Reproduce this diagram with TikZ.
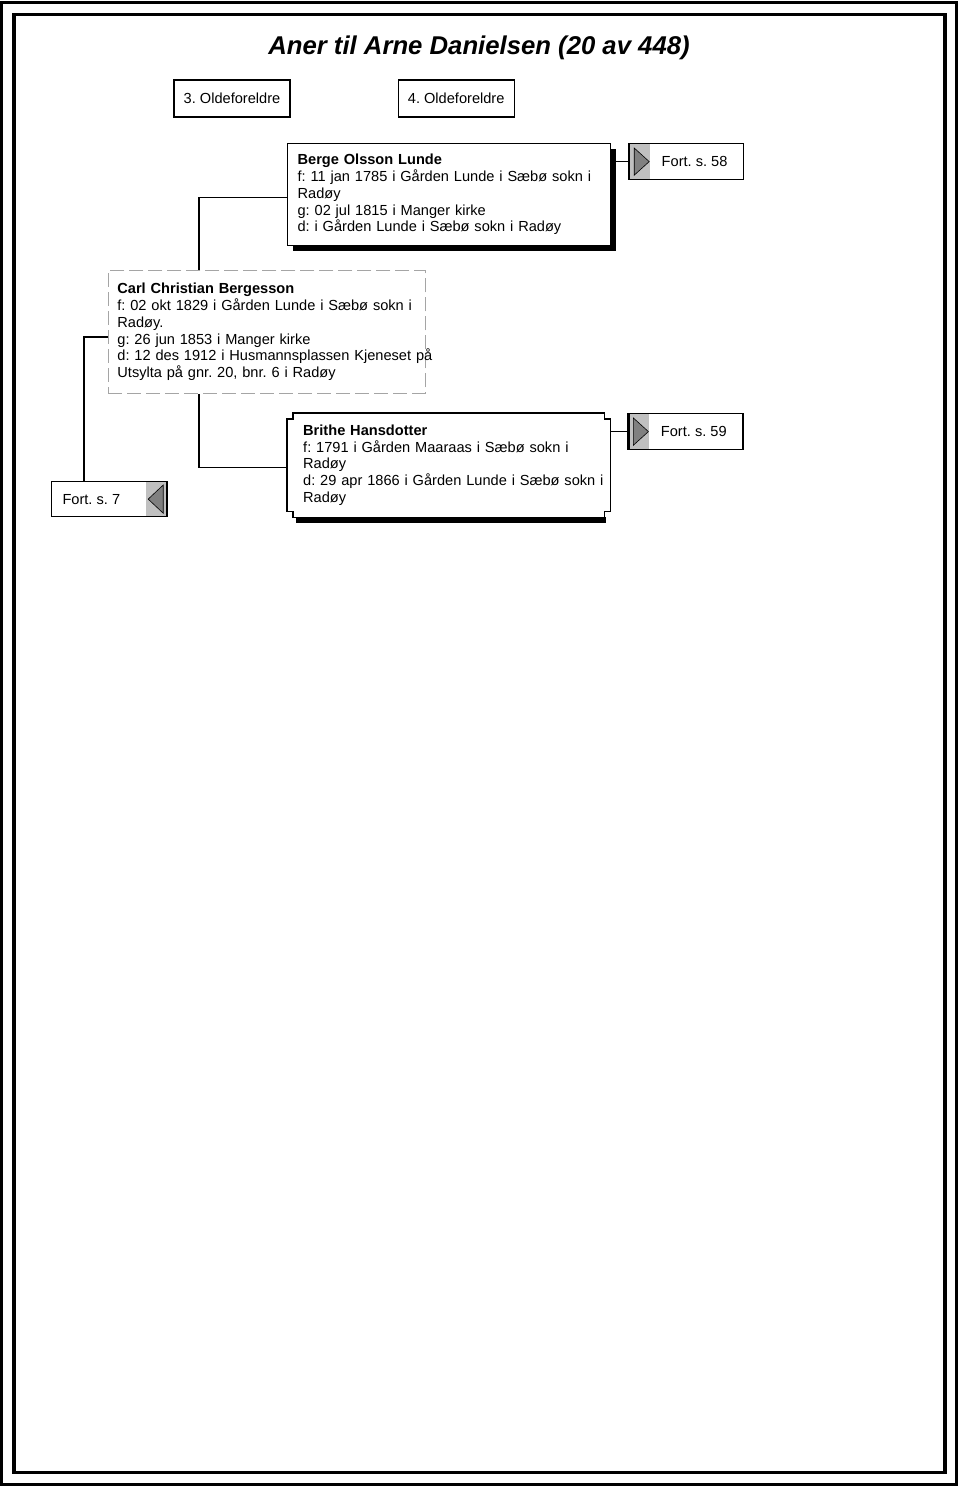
\documentclass[tikz,border=0pt]{standalone}
\usepackage{fontspec}
\setmainfont{Liberation Sans}
\usetikzlibrary{calc,positioning}
\definecolor{panelgray}{RGB}{192,192,192}
\definecolor{arrowgray}{RGB}{128,128,128}
\definecolor{dashgray}{RGB}{165,165,165}
\frenchspacing

\begin{document}
\begin{tikzpicture}[x=1pt,y=-1pt,
  every node/.style={font=\fontsize{14.6}{16.8}\selectfont},
  gentab/.style={draw, line width=1.2pt, minimum width=116pt, minimum height=37pt, inner sep=0pt},
  personbox/.style={draw, line width=1.2pt, fill=white, anchor=north west, align=left, inner ysep=4pt},
  blackshadow/.style={preaction={fill=black, transform canvas={xshift=5pt, yshift=-5pt}}},
  fortbox/.style={draw, line width=1.2pt, fill=white, minimum width=114pt, minimum height=36pt, inner sep=0pt},
  link/.style={line width=1.3pt},
  arrowtab/.style={fill=arrowgray, draw=black, line width=0.6pt}
]
\useasboundingbox (0,0) rectangle (960,1489);

% Page frames
\draw[line width=3pt] (1.5,2) rectangle (956,1484.5);
\draw[line width=3.5pt] (14,14.5) rectangle (945,1472.5);

\node[font=\bfseries\itshape\fontsize{25.7}{30}\selectfont] (title) at (479,48) {Aner til Arne Danielsen (20 av 448)};

\node[gentab] (gen3) at (232,98.5) {3. Oldeforeldre};
\node[gentab, right=107pt of gen3] (gen4) {4. Oldeforeldre};

% Persons
\node[personbox, blackshadow, text width=303pt, inner xsep=10pt, minimum height=102pt] (berge) at (287,143)
  {\textbf{Berge Olsson Lunde}\\ \mbox{f: 11 jan 1785 i Gården Lunde i Sæbø sokn i}\\ Radøy\\ g: 02 jul 1815 i Manger kirke\\ d: i Gården Lunde i Sæbø sokn i Radøy};

\node[personbox, draw=dashgray, line width=0.8pt, dash pattern=on 14pt off 5pt, text width=299pt, inner xsep=9pt, minimum height=123pt] (carl) at (108,270)
  {\textbf{Carl Christian Bergesson}\\ \mbox{f: 02 okt 1829 i Gården Lunde i Sæbø sokn i}\\ Radøy.\\ g: 26 jun 1853 i Manger kirke\\ \mbox{d: 12 des 1912 i Husmannsplassen Kjeneset på}\\ Utsylta på gnr. 20, bnr. 6 i Radøy};

\node[anchor=north west, align=left, text width=291pt, inner xsep=16pt, inner ysep=4pt, minimum height=104pt] (brithe) at (287,413)
  {\textbf{Brithe Hansdotter}\\ \mbox{f: 1791 i Gården Maaraas i Sæbø sokn i}\\ Radøy\\ \mbox{d: 29 apr 1866 i Gården Lunde i Sæbø sokn i}\\ Radøy};
\fill ($(brithe.south west)+(9,0)$) rectangle ($(brithe.south east)+(-4,6)$);
\draw[line width=1.2pt] ($(brithe.north west)+(6,0)$) -- ($(brithe.north east)+(-6,0)$) -- ++(0,6) -- ++(6,0)
  -- ($(brithe.south east)+(0,-6)$) -- ++(-6,0) -- ++(0,6) -- ($(brithe.south west)+(6,0)$) -- ++(0,-6) -- ++(-6,0)
  -- ($(brithe.north west)+(0,6)$) -- ++(6,0) -- cycle;

% Continuation tabs
\node[fortbox, right=18pt of berge.north east, anchor=north west] (fort58) {};
\fill[panelgray] ($(fort58.north west)+(1,1)$) rectangle ($(fort58.south west)+(21,-1)$);
\draw[line width=2.5pt] (fort58.north west) -- (fort58.south west);
\filldraw[arrowtab] ($(fort58.north west)+(5,5)$) -- ($(fort58.west)+(20,0)$) -- ($(fort58.south west)+(5,-5)$) -- cycle;
\node[anchor=west] (fort58-text) at ($(fort58.west)+(29,0)$) {Fort. s. 58};

\node[fortbox, right=18pt of brithe.north east, anchor=north west] (fort59) {};
\fill[panelgray] ($(fort59.north west)+(1,1)$) rectangle ($(fort59.south west)+(21,-1)$);
\draw[line width=2.5pt] (fort59.north west) -- (fort59.south west);
\filldraw[arrowtab] ($(fort59.north west)+(5,5)$) -- ($(fort59.west)+(20,0)$) -- ($(fort59.south west)+(5,-5)$) -- cycle;
\node[anchor=west] (fort59-text) at ($(fort59.west)+(29,0)$) {Fort. s. 59};

\node[fortbox, minimum width=115pt, minimum height=35pt, anchor=north west] (fort7) at (51,481) {};
\fill[panelgray] ($(fort7.north east)+(-21,1)$) rectangle ($(fort7.south east)+(-1,-1)$);
\draw[line width=2.5pt] (fort7.north east) -- (fort7.south east);
\filldraw[arrowtab] ($(fort7.north east)+(-4,4)$) -- ($(fort7.east)+(-19,0)$) -- ($(fort7.south east)+(-4,-4)$) -- cycle;
\node[anchor=west] (fort7-text) at ($(fort7.west)+(8,0)$) {Fort. s. 7};

% Links
\draw[link] (berge.east |- fort58.west) -- (fort58.west);
\draw[link] (brithe.east |- fort59.west) -- (fort59.west);
\draw[link] ($(berge.west)+(0,3)$) -| ($(carl.north west)+(91,0)$);
\draw[link] ($(carl.south west)+(91,0)$) |- ($(brithe.west)+(0,2)$);
\draw[link] ($(carl.west)+(0,5)$) -| ($(fort7.north west)+(33,0)$);

\end{tikzpicture}
\end{document}
